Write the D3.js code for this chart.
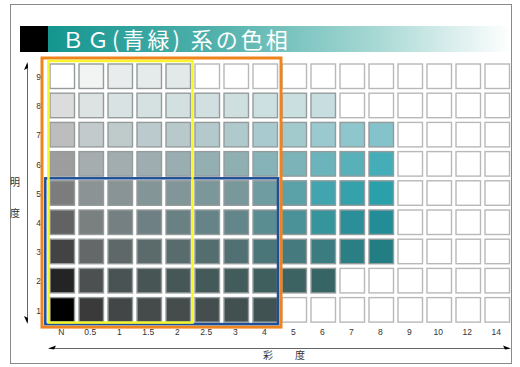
<!DOCTYPE html>
<html><head><meta charset="utf-8">
<script src="https://cdn.jsdelivr.net/npm/d3@7"></script>
<style>
html,body{margin:0;padding:0;background:#fff;}
svg{display:block;}
</style></head>
<body>
<script>
// Chroma (彩度) categories and value (明度) levels
const chromas = ["N","0.5","1","1.5","2","2.5","3","4","5","6","7","8","9","10","12","14"];
const values = [9,8,7,6,5,4,3,2,1];
// Cell colours per value row (null = empty box)
const row9 = ["#ffffff","#f2f3f3","#e8ecec","#e5eaea","#e3e9e9"];
const row8 = ["#dcdcdc","#dde3e3","#d8e2e2","#d5e1e1","#d3e0e0","#d1dfe0","#cfdfe0","#cde0e1","#cadfe0","#c6dedf"];
const row7 = ["#bdbdbd","#c3cacb","#bfcacb","#bbcacc","#b7c9cb","#b3c9cc","#afc9cc","#a9cbcf","#a2cacd","#9acacf","#8ec6cd","#84c3cb"];
const row6 = ["#9d9d9d","#a6adae","#a2adaf","#9eaeb0","#99aeb1","#94afb2","#8fb0b3","#86b3b7","#7cb3b8","#6bb4bb","#58b0b8","#45adb8"];
const row5 = ["#7c7c7c","#8c9394","#889495","#849597","#809698","#7c979a","#78989c","#6e9ca0","#5ba1a8","#42a4ae","#34a1ab","#2aa0ab"];
const row4 = ["#626262","#7a7f80","#748082","#6e8083","#6a8184","#668487","#62868a","#5a8d92","#4a9298","#35949c","#2a8f98","#238d97"];
const row3 = ["#434343","#646868","#5f6869","#5b6a6b","#586b6d","#546e70","#507074","#4a7679","#457a7e","#3b7c80","#2a7f84","#237e84"];
const row2 = ["#242424","#4d5050","#4a5353","#485555","#465757","#445959","#425c5c","#3f5f5f","#3c6262","#376464"];
const row1 = ["#000000","#3a3a3a","#424646","#454a4a","#454c4c","#444e4e","#425050","#405252"];
const rowColors = [row9,row8,row7,row6,row5,row4,row3,row2,row1];

const titleText = "ＢＧ(青緑) 系の色相";
const yAxisLabel = ["明","度"];
const xAxisLabel = ["彩","度"];

const W = 520, H = 367;
const svg = d3.select("body").append("svg").attr("width", W).attr("height", H);

// outer frame
svg.append("rect").attr("x",10.5).attr("y",4.5).attr("width",501).attr("height",359)
  .attr("fill","none").attr("stroke","#8a8a8a").attr("stroke-width",1);

// title bar
const defs = svg.append("defs");
const grad = defs.append("linearGradient").attr("id","tg").attr("x1","0%").attr("x2","100%");
grad.append("stop").attr("offset","0%").attr("stop-color","#14958f");
grad.append("stop").attr("offset","35%").attr("stop-color","#4fb0ab");
grad.append("stop").attr("offset","70%").attr("stop-color","#a5d7d3");
grad.append("stop").attr("offset","100%").attr("stop-color","#ffffff");
svg.append("rect").attr("x",20).attr("y",26).attr("width",28).attr("height",26).attr("fill","#000");
svg.append("rect").attr("x",48).attr("y",26).attr("width",463).attr("height",26).attr("fill","url(#tg)");
svg.append("text").attr("x",62).attr("y",47.5).text(titleText)
  .attr("fill","#fff").attr("font-family","'Noto Sans CJK JP','Noto Sans CJK SC',sans-serif")
  .attr("font-size",22).attr("letter-spacing","3px");

// scales
const x = d3.scaleBand().domain(chromas).range([45.5, 514]).paddingInner(0.155).paddingOuter(0.155);
const y = d3.scaleBand().domain(values).range([59.3, 326.8]).paddingInner(0.161).paddingOuter(0.161);

// cells
const cells = [];
values.forEach((v,ri)=>{
  chromas.forEach((c,ci)=>{
    const col = rowColors[ri][ci];
    cells.push({v,c,col: col===undefined ? null : col});
  });
});
svg.append("g").selectAll("rect").data(cells).join("rect")
  .attr("x",d=>x(d.c)).attr("y",d=>y(d.v))
  .attr("width",x.bandwidth()).attr("height",y.bandwidth())
  .attr("fill",d=>d.col || "#fff")
  .attr("stroke",d=>d.col ? "#959b9b" : "#b8b8b8")
  .attr("stroke-width",1.4);

// axes tick labels
const xAxis = d3.axisBottom(x).tickSize(0).tickPadding(0);
const gx = svg.append("g").attr("transform","translate(-1,329)").call(xAxis);
gx.select(".domain").remove();
gx.selectAll("text").attr("font-family","'Liberation Sans',Arial,sans-serif").attr("font-size",8.5).attr("fill","#333");

const yAxis = d3.axisLeft(y).tickSize(0).tickPadding(0);
const gy = svg.append("g").attr("transform","translate(41,1)").call(yAxis);
gy.select(".domain").remove();
gy.selectAll("text").attr("font-family","'Liberation Sans',Arial,sans-serif").attr("font-size",8.5).attr("fill","#333");

// highlight frames
const frame = (a,b,c2,d,col,w)=>svg.append("rect")
  .attr("x",a).attr("y",b).attr("width",c2-a).attr("height",d-b)
  .attr("fill","none").attr("stroke",col).attr("stroke-width",w);
// orange: value 9..1, chroma N..4
frame(x("N")-8, y(9)-6, x("4")+x.bandwidth()+3.5, y(1)+y.bandwidth()+5, "#f0841c", 3);
// blue: value 5..1, chroma N..4
frame(x("N")-4.7, y(5)-2.5, x("4")+x.bandwidth()+0.5, y(1)+y.bandwidth()+2, "#1f4f98", 2.5);
// yellow: value 9..1, chroma N..2
frame(x("N")-1.5, y(9)-3, x("2")+x.bandwidth()+2, y(1)+y.bandwidth()+0.5, "#f6f62a", 2.5);

// axis arrows
const ax = svg.append("g").attr("stroke","#666").attr("stroke-width",1);
ax.append("line").attr("x1",27.5).attr("x2",27.5).attr("y1",64).attr("y2",322);
ax.append("line").attr("x1",50).attr("x2",509).attr("y1",348.5).attr("y2",348.5);
svg.append("path").attr("d","M27.5,62 L24,70 L28,68 Z").attr("fill","#000");
svg.append("path").attr("d","M27.5,324 L24,316 L28,318 Z").attr("fill","#000");
svg.append("path").attr("d","M48,348.5 L56,345.5 L54,349.5 Z").attr("fill","#000");
svg.append("path").attr("d","M511,348.5 L503,345.5 L505,349.5 Z").attr("fill","#000");

const lblFont = "'Noto Sans CJK JP',sans-serif";
svg.append("text").attr("x",15).attr("y",186).text(yAxisLabel[0]).attr("font-family",lblFont).attr("font-size",10).attr("fill","#333").attr("text-anchor","middle");
svg.append("text").attr("x",15).attr("y",217).text(yAxisLabel[1]).attr("font-family",lblFont).attr("font-size",10).attr("fill","#333").attr("text-anchor","middle");
svg.append("text").attr("x",268).attr("y",359).text(xAxisLabel[0]).attr("font-family",lblFont).attr("font-size",10).attr("fill","#333").attr("text-anchor","middle");
svg.append("text").attr("x",300).attr("y",359).text(xAxisLabel[1]).attr("font-family",lblFont).attr("font-size",10).attr("fill","#333").attr("text-anchor","middle");
</script>
</body></html>
